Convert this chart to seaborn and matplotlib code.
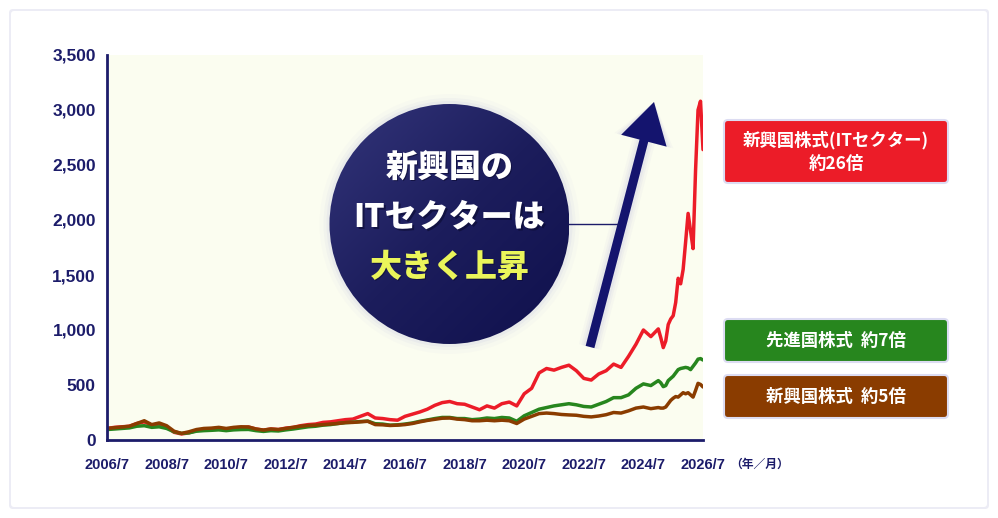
import numpy as np
import pandas as pd
import matplotlib
matplotlib.use("Agg")
import matplotlib.pyplot as plt
from matplotlib.patches import Circle, FancyBboxPatch, FancyArrow
from matplotlib.colors import LinearSegmentedColormap
import seaborn as sns

# quarterly points until 2025, monthly after that
years = list(np.arange(2006.5, 2025.01, 0.25)) + list(np.arange(2025 + 1/12, 2026.51, 1/12))

em_it = [105, 115, 120, 125, 150, 165, 135, 145, 120, 70,
         55, 65, 85, 95, 100, 105, 95, 110, 115, 118,
         100, 90, 100, 95, 108, 115, 130, 140, 145, 160,
         165, 175, 185, 190, 215, 240, 200, 195, 185, 180,
         215, 235, 255, 280, 315, 340, 350, 330, 325, 300,
         275, 310, 290, 330, 345, 310, 420, 470, 610, 650,
         635, 660, 680, 630, 560, 545, 600, 630, 690, 660,
         760, 870, 1000, 940, 1010,
         930, 840, 900, 1050, 1100, 1130, 1250, 1470, 1420, 1550,
         1800, 2060, 1900, 1740, 2450, 3000, 3080, 2640]

developed = [95, 100, 105, 110, 125, 130, 115, 120, 105, 75,
             60, 65, 80, 85, 88, 92, 85, 92, 95, 96,
             85, 78, 85, 82, 92, 100, 110, 120, 125, 135,
             140, 150, 158, 162, 168, 172, 148, 145, 135, 138,
             145, 155, 170, 182, 195, 205, 205, 195, 195, 185,
             190, 200, 195, 205, 200, 170, 220, 250, 280, 295,
             310, 320, 330, 320, 305, 300, 325, 350, 385, 385,
             410, 470, 510, 495, 540,
             520, 485, 495, 540, 560, 580, 610, 640, 650, 655,
             660, 655, 640, 670, 700, 735, 740, 727]

emerging = [105, 112, 118, 125, 150, 175, 140, 155, 130, 80,
            60, 75, 95, 105, 108, 115, 105, 115, 120, 118,
            100, 90, 100, 95, 105, 115, 125, 132, 135, 140,
            145, 150, 158, 160, 165, 170, 140, 138, 132, 135,
            140, 150, 165, 178, 188, 198, 200, 190, 185, 175,
            175, 180, 175, 180, 175, 150, 190, 215, 240, 245,
            240, 232, 228, 225, 215, 210, 218, 230, 250, 245,
            265, 290, 300, 285, 295,
            290, 290, 300, 330, 360, 380, 395, 390, 410, 430,
            420, 430, 410, 390, 450, 515, 505, 482]

series_names = ["新興国株式（ITセクター）", "先進国株式", "新興国株式"]
series_colors = ["#ec1c28", "#27861e", "#8a3c00"]
badge_texts = ["新興国株式(ITセクター)\n約26倍", "先進国株式  約7倍", "新興国株式  約5倍"]

xtick_pos = list(range(2006, 2027, 2))
xtick_labels = [f"{y}/7" for y in xtick_pos]
ytick_vals = list(range(0, 3501, 500))

df = pd.concat([
    pd.DataFrame({"year": years, "value": em_it, "series": series_names[0]}),
    pd.DataFrame({"year": years, "value": developed, "series": series_names[1]}),
    pd.DataFrame({"year": years, "value": emerging, "series": series_names[2]}),
])

sns.set_style("white")
plt.rcParams["font.family"] = ["Liberation Sans", "Noto Sans CJK JP", "DejaVu Sans"]
jp = ["Noto Sans CJK JP", "DejaVu Sans"]
navy = "#1c1c6a"

W, H = 998, 518
fig = plt.figure(figsize=(W / 100, H / 100), dpi=100)
fig.patch.set_facecolor("white")

# background card
bg = fig.add_axes([0, 0, 1, 1], zorder=0)
bg.set_xlim(0, W)
bg.set_ylim(H, 0)
bg.axis("off")
bg.add_patch(FancyBboxPatch((9, 9), 980, 500, boxstyle="round,pad=0,rounding_size=4",
                            facecolor="#ececf5", edgecolor="none"))
bg.add_patch(FancyBboxPatch((11, 11), 976, 496, boxstyle="round,pad=0,rounding_size=3",
                            facecolor="white", edgecolor="none"))

# main chart
ax = fig.add_axes([107 / W, 78 / H, 596 / W, 385 / H], zorder=1)
ax.set_facecolor("#fbfdf0")
sns.lineplot(data=df, x="year", y="value", hue="series", hue_order=series_names,
             palette=dict(zip(series_names, series_colors)), linewidth=2.5,
             legend=False, ax=ax)
ax.set_xlim(2006.5, 2026.5)
ax.set_ylim(0, 3500)
ax.set_xlabel("")
ax.set_ylabel("")
ax.set_xticks([y + 0.5 for y in xtick_pos])
ax.set_xticklabels(xtick_labels)
ax.set_yticks(ytick_vals)
ax.set_yticklabels([f"{v:,}" for v in ytick_vals])
for s in ["top", "right"]:
    ax.spines[s].set_visible(False)
for s in ["left", "bottom"]:
    ax.spines[s].set_color(navy)
    ax.spines[s].set_linewidth(2)
ax.tick_params(axis="x", direction="inout", length=6, width=1.5, color=navy, pad=10,
               labelsize=10.5, labelcolor=navy)
ax.tick_params(axis="y", direction="inout", length=6, width=1.5, color=navy, pad=5,
               labelsize=12.5, labelcolor=navy)
for lab in ax.get_xticklabels() + ax.get_yticklabels():
    lab.set_fontweight("bold")

# overlay for annotations in pixel coordinates
ov = fig.add_axes([0, 0, 1, 1], zorder=2)
ov.set_xlim(0, W)
ov.set_ylim(H, 0)
ov.axis("off")
ov.patch.set_alpha(0)

ov.text(760, 464, "（年／月）", ha="center", va="center", fontsize=8.5, color=navy,
        fontweight="bold", family=jp)

# connector line
ov.plot([565, 618], [224, 224], color=navy, linewidth=1)

# arrow with glow
for k, a in [(14, 0.05), (9, 0.07), (5, 0.09)]:
    ov.add_patch(FancyArrow(590, 347, 64, -245, width=9 + k, head_width=47 + k, head_length=40,
                            length_includes_head=True, facecolor="#9a9ad8", edgecolor="none", alpha=a))
ov.add_patch(FancyArrow(590, 347, 64, -245, width=9, head_width=47, head_length=40,
                        length_includes_head=True, facecolor="#14146e", edgecolor="none"))

# circle with glow and gradient
cx, cy, r = 449.5, 224, 120
for k, a in [(10, 0.04), (6, 0.07), (3, 0.1)]:
    ov.add_patch(Circle((cx, cy), r + k, facecolor="#a6a6dc", edgecolor="none", alpha=a))
cmap = LinearSegmentedColormap.from_list("navy", ["#33357a", "#1c1d5c", "#0f104c"])
gx, gy = np.meshgrid(np.linspace(0, 1, 200), np.linspace(0, 1, 200))
im = ov.imshow(gx + gy, cmap=cmap, extent=[cx - r, cx + r, cy + r, cy - r], zorder=3)
clip = Circle((cx, cy), r, transform=ov.transData)
im.set_clip_path(clip)

circle_lines = [("新興国の", "white", 167), ("ITセクターは", "white", 217), ("大きく上昇", "#eaf55a", 267)]
for txt, col, ty in circle_lines:
    ov.text(cx + 1.5, ty + 1.5, txt, ha="center", va="center", fontsize=23, color="#0a0a30",
            fontweight="black", family=jp, zorder=4, alpha=0.6)
    ov.text(cx, ty, txt, ha="center", va="center", fontsize=23, color=col,
            fontweight="black", family=jp, zorder=5)

# badges
badge_boxes = [(120, 183), (319, 362), (375, 418)]
for (y0, y1), col, txt in zip(badge_boxes, series_colors, badge_texts):
    ov.add_patch(FancyBboxPatch((724, y0), 224, y1 - y0, boxstyle="round,pad=0,rounding_size=4",
                                facecolor=col, edgecolor="#dcdcf2", linewidth=1.5))
    ov.text(836, (y0 + y1) / 2 + 0.5, txt, ha="center", va="center", fontsize=12.5,
            color="white", fontweight="bold", family=jp, linespacing=1.35)

fig.savefig("out.png", dpi=100)
